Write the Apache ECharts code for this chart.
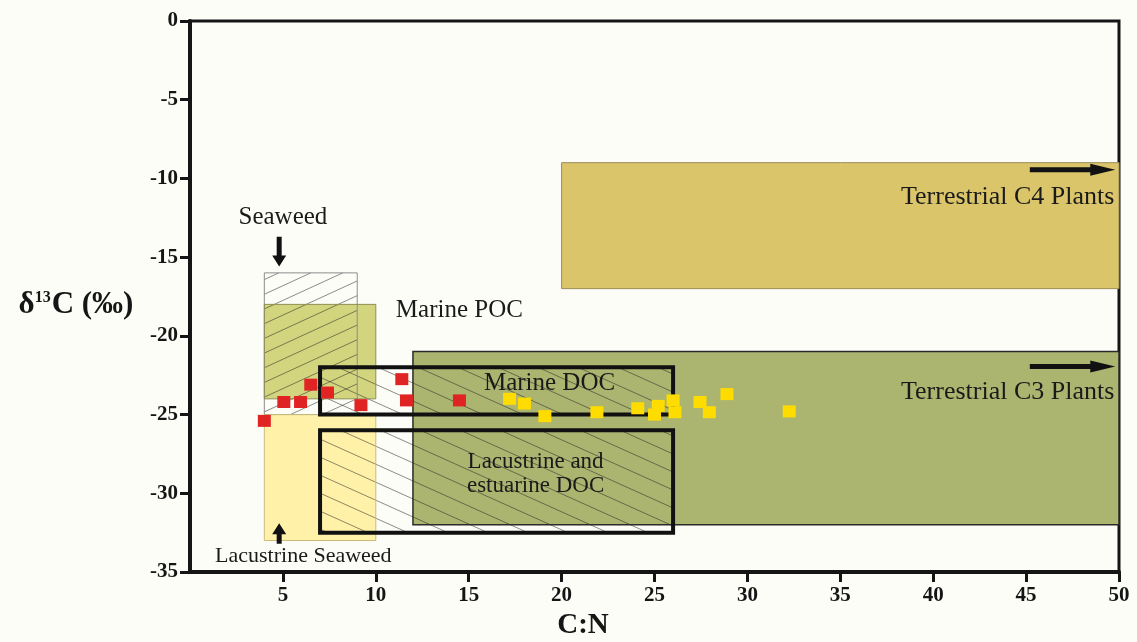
<!DOCTYPE html>
<html><head><meta charset="utf-8">
<script src="https://cdn.jsdelivr.net/npm/echarts@6/dist/echarts.min.js"></script>
<style>html,body{margin:0;padding:0;background:#fdfdf7}#c{width:1137px;height:642px}</style>
</head><body><div id="c"></div>
<script>
// ---------------- DATA ----------------
const redCN   = [4.0, 5.05, 5.95, 6.5, 7.4, 9.2, 11.4, 11.65, 14.5];
const redD13C = [-25.4, -24.2, -24.2, -23.1, -23.6, -24.4, -22.75, -24.1, -24.1];
const yellowCN   = [17.2, 18.0, 19.1, 21.9, 24.1, 25.2, 25.0, 26.0, 26.1, 27.45, 27.95, 28.9, 32.25];
const yellowD13C = [-24.0, -24.3, -25.1, -24.85, -24.6, -24.45, -25.0, -24.1, -24.85, -24.2, -24.85, -23.7, -24.8];

const regionNames  = ['Terrestrial C4 Plants', 'Terrestrial C3 Plants', 'Seaweed', 'Marine POC', 'Lacustrine Seaweed', 'Marine DOC', 'Lacustrine and estuarine DOC'];
const regionCNMin  = [20, 12, 4, 4, 4, 7, 7];
const regionCNMax  = [50, 50, 9, 10, 10, 26, 26];
const regionD13CTop    = [-9, -21, -16, -18, -25, -22, -26];
const regionD13CBottom = [-17, -32, -25, -24, -33, -25, -32.5];

const labelTexts = ['Terrestrial C4 Plants', 'Terrestrial C3 Plants', 'Seaweed', 'Marine POC', 'Lacustrine Seaweed', 'Marine DOC', 'Lacustrine and\nestuarine DOC'];
const labelCN    = [49.75, 49.75, 5.0, 14.5, 6.1, 19.35, 18.6];
const labelD13C  = [-11.2, -23.55, -12.5, -18.4, -34.0, -23.0, -28.8];

const arrowCNFrom   = [45.2, 45.2, 4.8, 4.8];
const arrowD13CFrom = [-9.45, -21.95, -13.7, -33.2];
const arrowCNTo     = [49.8, 49.8, 4.8, 4.8];
const arrowD13CTo   = [-9.45, -21.95, -15.6, -31.9];

const xTickInterval = 5, yTickInterval = 5;

// ---------------- STYLES ----------------
const regionStyle = [
  {fill: '#dac56b', stroke: '#9c8c58', lw: 1},
  {fill: '#acb570', stroke: '#2a2a2a', lw: 1.5},
  {fill: null, stroke: '#8c8c8c', lw: 1, hatch: {slope: -0.46, gap: 14.7}},
  {fill: '#d3d57e', stroke: '#8e8e55', lw: 1},
  {fill: '#fff2a8', stroke: '#cbbb7a', lw: 1},
  {fill: null, stroke: '#111', lw: 4, hatch: {slope: 0.45, gap: 18}},
  {fill: null, stroke: '#111', lw: 4, hatch: {slope: 0.45, gap: 18}}
];
const labelStyle = [
  {size: 26, align: 'right'}, {size: 26, align: 'right'}, {size: 25, align: 'center'},
  {size: 25, align: 'center'}, {size: 22, align: 'center'}, {size: 25, align: 'center'},
  {size: 23, align: 'center'}
];
const arrowStyle = [
  {shaft: 5, headL: 25, headW: 12}, {shaft: 5, headL: 25, headW: 12},
  {shaft: 5, headL: 11, headW: 14}, {shaft: 5, headL: 11, headW: 14}
];

const serif = "'Liberation Serif', 'Times New Roman', serif";
const regionData = regionNames.map((n, i) => [regionCNMin[i], regionCNMax[i], regionD13CTop[i], regionD13CBottom[i], i]);

function rectPx(api) {
  const p0 = api.coord([api.value(0), api.value(2)]);
  const p1 = api.coord([api.value(1), api.value(3)]);
  return {x: Math.min(p0[0], p1[0]), y: Math.min(p0[1], p1[1]),
          width: Math.abs(p1[0] - p0[0]), height: Math.abs(p1[1] - p0[1])};
}

function hatchLines(r, slope, gap) {
  const out = [];
  const w = r.width, h = r.height, s = slope;
  const span = Math.abs(s) * w + h;
  for (let c = -span; c <= span; c += gap) {
    let tMin = 0, tMax = w;
    const a = (0 - c) / s, b = (h - c) / s;
    tMin = Math.max(tMin, Math.min(a, b));
    tMax = Math.min(tMax, Math.max(a, b));
    if (tMax - tMin > 0.5) {
      out.push({type: 'line', shape: {x1: r.x + tMin, y1: r.y + c + s * tMin, x2: r.x + tMax, y2: r.y + c + s * tMax},
        style: {stroke: 'rgba(35,35,35,0.75)', lineWidth: 0.7}});
    }
  }
  return out;
}

function arrowPoly(p0, p1, st) {
  const dx = p1[0] - p0[0], dy = p1[1] - p0[1], L = Math.hypot(dx, dy);
  const ux = dx / L, uy = dy / L, nx = -uy, ny = ux;
  const bx = p1[0] - ux * st.headL, by = p1[1] - uy * st.headL;
  const sw = st.shaft / 2, hw = st.headW / 2;
  return [[p0[0] + nx * sw, p0[1] + ny * sw], [bx + nx * sw, by + ny * sw], [bx + nx * hw, by + ny * hw],
          [p1[0], p1[1]], [bx - nx * hw, by - ny * hw], [bx - nx * sw, by - ny * sw], [p0[0] - nx * sw, p0[1] - ny * sw]];
}

const axisLabelStyle = {fontFamily: serif, fontWeight: 'bold', fontSize: 21, color: '#151515'};

const option = {
  backgroundColor: '#fdfdf7',
  animation: false,
  grid: {left: 190, right: 18, top: 21, bottom: 70, containLabel: false, show: true,
         borderColor: '#151515', borderWidth: 3, backgroundColor: 'transparent'},
  xAxis: {
    type: 'value', min: 0, max: 50, interval: xTickInterval,
    axisLine: {onZero: false, lineStyle: {color: '#151515', width: 4}},
    axisTick: {length: 10, lineStyle: {color: '#151515', width: 3}},
    axisLabel: Object.assign({margin: 13, showMinLabel: false}, axisLabelStyle),
    splitLine: {show: false}
  },
  yAxis: {
    type: 'value', min: -35, max: 0, interval: yTickInterval,
    axisLine: {onZero: false, lineStyle: {color: '#151515', width: 4}},
    axisTick: {length: 10, lineStyle: {color: '#151515', width: 3}},
    axisLabel: Object.assign({margin: 12}, axisLabelStyle),
    splitLine: {show: false}
  },
  graphic: [
    {type: 'text', x: 76, y: 305, style: {
      text: '{a|δ}{s|13}{a|C (‰)}', textAlign: 'center', textVerticalAlign: 'middle',
      rich: {a: {fontFamily: serif, fontWeight: 'bold', fontSize: 31, fill: '#151515'},
             s: {fontFamily: serif, fontWeight: 'bold', fontSize: 16, fill: '#151515', verticalAlign: 'top', padding: [0, 1, 14, 0]}}}},
    {type: 'text', x: 583, y: 626, style: {text: 'C:N', fontFamily: serif, fontWeight: 'bold', fontSize: 29,
      fill: '#151515', textAlign: 'center', textVerticalAlign: 'middle'}}
  ],
  series: [
    {
      type: 'custom', name: 'fills', data: regionData, encode: {x: [0, 1], y: [2, 3]}, z: 1, silent: true,
      renderItem: (params, api) => {
        const st = regionStyle[api.value(4)];
        if (!st.fill) return null;
        return {type: 'rect', shape: rectPx(api), style: {fill: st.fill}};
      }
    },
    {
      type: 'custom', name: 'hatch', data: regionData, encode: {x: [0, 1], y: [2, 3]}, z: 2, silent: true,
      renderItem: (params, api) => {
        const st = regionStyle[api.value(4)];
        if (!st.hatch) return null;
        return {type: 'group', children: hatchLines(rectPx(api), st.hatch.slope, st.hatch.gap)};
      }
    },
    {
      type: 'custom', name: 'borders', data: regionData, encode: {x: [0, 1], y: [2, 3]}, z: 3, silent: true,
      renderItem: (params, api) => {
        const st = regionStyle[api.value(4)];
        return {type: 'rect', shape: rectPx(api), style: {fill: 'none', stroke: st.stroke, lineWidth: st.lw}};
      }
    },
    {
      type: 'scatter', name: 'red', symbol: 'rect', symbolSize: [13, 12], z: 5,
      itemStyle: {color: '#e02424', opacity: 1},
      data: redCN.map((x, i) => [x, redD13C[i]])
    },
    {
      type: 'scatter', name: 'yellow', symbol: 'rect', symbolSize: [13, 12], z: 5,
      itemStyle: {color: '#ffdc00', opacity: 1},
      data: yellowCN.map((x, i) => [x, yellowD13C[i]])
    },
    {
      type: 'custom', name: 'arrows', z: 6, silent: true,
      data: arrowCNFrom.map((x, i) => [x, arrowD13CFrom[i], arrowCNTo[i], arrowD13CTo[i], i]),
      encode: {x: [0, 2], y: [1, 3]},
      renderItem: (params, api) => {
        const p0 = api.coord([api.value(0), api.value(1)]);
        const p1 = api.coord([api.value(2), api.value(3)]);
        return {type: 'polygon', shape: {points: arrowPoly(p0, p1, arrowStyle[api.value(4)])}, style: {fill: '#111'}};
      }
    },
    {
      type: 'custom', name: 'labels', z: 7, silent: true,
      data: labelCN.map((x, i) => [x, labelD13C[i], i]),
      encode: {x: 0, y: 1},
      renderItem: (params, api) => {
        const i = api.value(2);
        const p = api.coord([api.value(0), api.value(1)]);
        const ls = labelStyle[i];
        return {type: 'text', x: p[0], y: p[1], style: {
          text: labelTexts[i], fontFamily: serif, fontSize: ls.size, fill: '#1a1a1a',
          textAlign: ls.align, textVerticalAlign: 'middle', lineHeight: ls.size + 1}};
      }
    }
  ]
};

const chart = echarts.init(document.getElementById('c'), null, {renderer: 'canvas'});
chart.setOption(option);
</script>
</body></html>
